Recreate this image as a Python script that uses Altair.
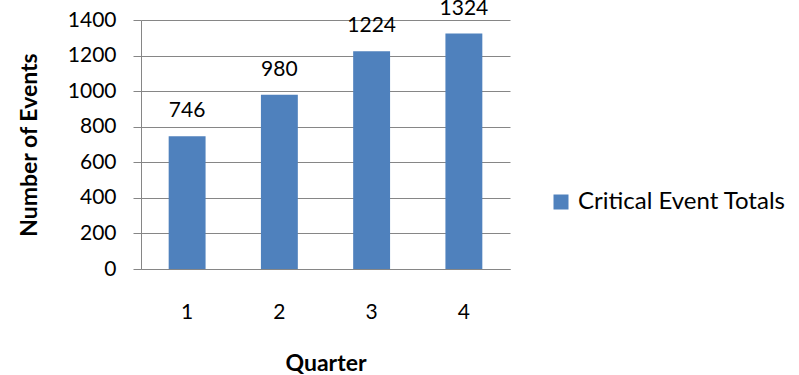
import altair as alt
import pandas as pd

# Quarterly critical event counts
quarters = ["1", "2", "3", "4"]
totals = [746, 980, 1224, 1324]
series_name = "Critical Event Totals"
y_ticks = [0, 200, 400, 600, 800, 1000, 1200, 1400]

df = pd.DataFrame({"Quarter": quarters, "Events": totals, "Series": [series_name] * 4})

FONT = "Lato"
GRID = "#868686"

base = alt.Chart(df).encode(
    x=alt.X(
        "Quarter:N",
        sort=quarters,
        scale=alt.Scale(paddingInner=0.6, paddingOuter=0.3),
        axis=alt.Axis(
            title="Quarter",
            labelAngle=0,
            ticks=False,
            labelPadding=32,
            titlePadding=30,
            domainColor=GRID,
        ),
    ),
    y=alt.Y(
        "Events:Q",
        scale=alt.Scale(domain=[0, 1400], nice=False),
        axis=alt.Axis(
            title="Number of Events",
            values=y_ticks,
            format="d",
            labelOverlap=False,
            tickColor=GRID,
            tickSize=8,
            labelPadding=17,
            titlePadding=26,
            gridColor=GRID,
            domainColor=GRID,
        ),
    ),
)

bars = base.mark_bar(color="#4F81BD").encode(
    color=alt.Color(
        "Series:N",
        scale=alt.Scale(range=["#4F81BD"]),
        legend=alt.Legend(
            title=None,
            orient="none",
            legendX=408,
            legendY=170,
            symbolType="square",
            symbolSize=225,
            symbolStrokeWidth=0,
            labelFontSize=24,
            labelFont=FONT,
            labelColor="#000000",
            labelLimit=0,
            labelOffset=5,
        ),
    ),
)

labels = base.mark_text(
    dy=-19, fontSize=21, font=FONT, color="#000000", baseline="alphabetic"
).encode(
    text="Events:Q",
)

chart = (
    alt.layer(bars, labels)
    .properties(
        width=369,
        height=249,
        autosize=alt.AutoSizeParams(type="none"),
        padding={"left": 141, "top": 20, "right": 289, "bottom": 106},
    )
    .configure_view(stroke=None)
    .configure_axis(
        labelFont=FONT,
        labelFontSize=21,
        labelColor="#000000",
        titleFont=FONT,
        titleFontSize=23,
        titleFontWeight="bold",
        titleColor="#000000",
        gridWidth=1,
        domainWidth=1,
    )
)

chart.save("out.html", embed_options={"renderer": "svg", "actions": False})
